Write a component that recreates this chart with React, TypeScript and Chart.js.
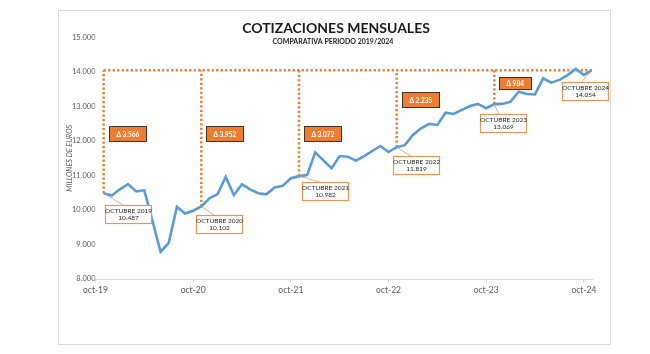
import React, { useEffect, useRef } from 'react';
import { Chart, registerables } from 'chart.js';

Chart.register(...registerables);

const title = 'COTIZACIONES MENSUALES';
const subtitle = 'COMPARATIVA PERIODO 2019/2024';
const yAxisTitle = 'MILLONES DE EUROS';
const tickLabels = ['oct-19', 'oct-20', 'oct-21', 'oct-22', 'oct-23', 'oct-24'];
const octIndices = [0, 12, 24, 36, 48, 60];
const octLabels = ['OCTUBRE 2019', 'OCTUBRE 2020', 'OCTUBRE 2021', 'OCTUBRE 2022', 'OCTUBRE 2023', 'OCTUBRE 2024'];
const deltas = [3566, 3952, 3072, 2235, 984];
// monthly values, oct-2019 .. oct-2024 (millones de euros)
const values = [
  10487, 10420, 10600, 10750, 10540, 10570, 9680, 8790, 9050, 10090, 9900, 9980,
  10102, 10340, 10460, 10960, 10435, 10745, 10600, 10485, 10455, 10650, 10700, 10920,
  10982, 11010, 11670, 11440, 11210, 11565, 11545, 11430, 11565, 11710, 11855, 11680,
  11819, 11880, 12175, 12370, 12495, 12465, 12820, 12785, 12900, 13015, 13075, 12950,
  13069, 13075, 13140, 13430, 13360, 13350, 13815, 13690, 13770, 13910, 14090, 13915,
  14054,
];

const FONT = 'Lato, "Open Sans", sans-serif';
const fmt = (n: number) => String(Math.round(n)).replace(/\B(?=(\d{3})+(?!\d))/g, '.');

// layout of annotation boxes (pixels relative to the October point)
const labelOffsets = [[1, 12], [-5, 9], [3, 6], [-4, 9], [-14, 10], [-30, 12]];
const deltaAnchorValues = [12220, 12220, 12220, 13200, 13680];

const annotPlugin = {
  id: 'annot',
  beforeDraw(chart: any) {
    const ctx = chart.ctx;
    const ca = chart.chartArea;
    ctx.save();
    ctx.fillStyle = '#ffffff';
    ctx.fillRect(0, 0, chart.width, chart.height);
    ctx.strokeStyle = '#d9d9d9';
    ctx.lineWidth = 1;
    ctx.strokeRect(58.5, 10.5, 552, 334);
    ctx.fillStyle = '#1a1a1a';
    ctx.textAlign = 'center';
    ctx.textBaseline = 'middle';
    ctx.font = `bold 14px ${FONT}`;
    ctx.fillText(title, 336, 28);
    ctx.font = `bold 7px ${FONT}`;
    ctx.fillText(subtitle, 333, 41.5);
    // y axis title
    ctx.translate(70, (ca.top + ca.bottom) / 2);
    ctx.rotate(-Math.PI / 2);
    ctx.fillStyle = '#595959';
    ctx.font = `italic 7.2px ${FONT}`;
    ctx.fillText(yAxisTitle, 0, 0);
    ctx.restore();
  },
  beforeDatasetsDraw(chart: any) {
    const ctx = chart.ctx;
    const xs = chart.scales.x;
    const ys = chart.scales.y;
    const last = values[values.length - 1];
    const yTop = ys.getPixelForValue(last);
    ctx.save();
    ctx.strokeStyle = '#ED7D31';
    ctx.lineWidth = 2.5;
    ctx.setLineDash([2.3, 2.2]);
    ctx.beginPath();
    ctx.moveTo(xs.getPixelForValue(octIndices[0]), yTop);
    ctx.lineTo(xs.getPixelForValue(octIndices[octIndices.length - 1]), yTop);
    ctx.stroke();
    for (let k = 0; k < octIndices.length - 1; k++) {
      const i = octIndices[k];
      const px = xs.getPixelForValue(i);
      ctx.beginPath();
      ctx.moveTo(px, ys.getPixelForValue(values[i]));
      ctx.lineTo(px, yTop);
      ctx.stroke();
    }
    ctx.restore();
  },
  afterDatasetsDraw(chart: any) {
    const ctx = chart.ctx;
    const xs = chart.scales.x;
    const ys = chart.scales.y;
    ctx.save();
    // delta boxes
    deltas.forEach((d, k) => {
      const px = xs.getPixelForValue(octIndices[k]);
      const cy = ys.getPixelForValue(deltaAnchorValues[k]);
      const small = d < 1000;
      const w = small ? 32 : 37;
      const h = small ? 12 : 15;
      const left = Math.round(px + 5) + 0.5;
      const top = Math.round(cy - h / 2) + 0.5;
      ctx.fillStyle = '#ED7D31';
      ctx.fillRect(left, top, w, h);
      ctx.strokeStyle = '#4a3020';
      ctx.lineWidth = 1;
      ctx.strokeRect(left, top, w, h);
      ctx.fillStyle = '#ffffff';
      ctx.font = `bold 6.5px ${FONT}`;
      ctx.textAlign = 'left';
      ctx.textBaseline = 'middle';
      ctx.fillText('Δ ' + fmt(d), left + 7, top + h / 2 + 0.5);
    });
    // October labels
    octIndices.forEach((i, k) => {
      const px = xs.getPixelForValue(i);
      const py = ys.getPixelForValue(values[i]);
      const w = 46;
      const h = 18;
      const left = Math.round(px + labelOffsets[k][0]) + 0.5;
      const top = Math.round(py + labelOffsets[k][1]) + 0.5;
      ctx.strokeStyle = '#a6a6a6';
      ctx.lineWidth = 0.8;
      ctx.beginPath();
      ctx.moveTo(px, py);
      ctx.lineTo(left + w * 0.4, top);
      ctx.stroke();
      ctx.fillStyle = '#ffffff';
      ctx.fillRect(left, top, w, h);
      ctx.strokeStyle = '#E8955A';
      ctx.lineWidth = 1.2;
      ctx.strokeRect(left, top, w, h);
      ctx.fillStyle = '#262626';
      ctx.font = `6.5px ${FONT}`;
      ctx.textAlign = 'center';
      ctx.textBaseline = 'middle';
      ctx.fillText(octLabels[k], left + w / 2, top + 5.5);
      ctx.fillText(fmt(values[i]), left + w / 2, top + 12.8);
    });
    ctx.restore();
  },
};

export default function App() {
  const ref = useRef<HTMLCanvasElement | null>(null);
  useEffect(() => {
    if (!ref.current) return;
    Chart.defaults.font.family = FONT;
    const chart = new Chart(ref.current, {
      type: 'line',
      data: {
        datasets: [
          {
            data: values.map((v, i) => ({ x: i, y: v })),
            borderColor: '#5B9BD5',
            borderWidth: 2.6,
            pointRadius: 0,
            tension: 0,
            fill: false,
          },
        ],
      },
      options: {
        animation: false,
        responsive: false,
        devicePixelRatio: 1,
        layout: { padding: { left: 62, right: 58, top: 37.5, bottom: 55 } },
        plugins: { legend: { display: false }, tooltip: { enabled: false } },
        scales: {
          x: {
            type: 'linear',
            min: -1,
            max: 60,
            afterBuildTicks: (s: any) => {
              s.ticks = octIndices.map((i) => ({ value: i - 1 }));
            },
            afterFit: (s: any) => {
              s.height = 20;
            },
            ticks: {
              autoSkip: false,
              maxRotation: 0,
              color: '#595959',
              font: { size: 8.5 },
              padding: 2,
              callback: (_v: any, idx: number) => tickLabels[idx],
            },
            grid: { drawOnChartArea: false, drawTicks: true, tickLength: 4, color: '#d9d9d9' },
            border: { color: '#d9d9d9' },
          },
          y: {
            min: 8000,
            max: 15000,
            afterFit: (s: any) => {
              s.width = 33.5;
            },
            ticks: {
              stepSize: 1000,
              color: '#595959',
              font: { size: 7.5 },
              padding: 0,
              callback: (v: any) => fmt(Number(v)),
            },
            grid: { display: false, drawTicks: false },
            border: { display: false },
          },
        },
      },
      plugins: [annotPlugin],
    });
    return () => chart.destroy();
  }, []);
  return (
    <div style={{ position: 'fixed', left: 0, top: 0, width: 650, height: 354, background: '#fff' }}>
      <canvas ref={ref} width={650} height={354} style={{ display: 'block', width: 650, height: 354 }} />
    </div>
  );
}
